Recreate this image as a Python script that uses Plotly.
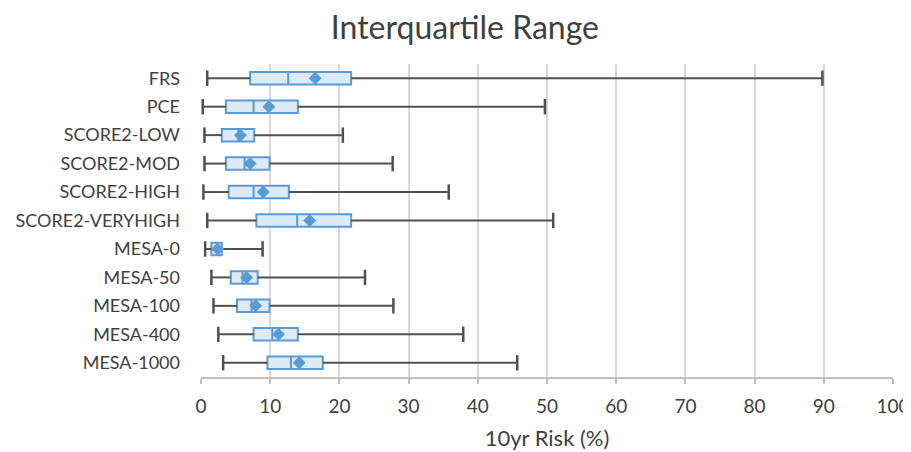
import plotly.graph_objects as go

categories = ["FRS", "PCE", "SCORE2-LOW", "SCORE2-MOD", "SCORE2-HIGH", "SCORE2-VERYHIGH",
              "MESA-0", "MESA-50", "MESA-100", "MESA-400", "MESA-1000"]
min_vals = [0.9, 0.25, 0.5, 0.5, 0.35, 0.9, 0.6, 1.5, 1.8, 2.5, 3.2]
q1_vals = [7.1, 3.6, 3.0, 3.6, 4.0, 8.0, 1.5, 4.3, 5.2, 7.6, 9.6]
median_vals = [12.6, 7.6, 5.4, 6.3, 7.6, 13.9, 2.3, 6.0, 7.3, 10.3, 13.0]
mean_vals = [16.5, 9.8, 5.7, 7.1, 9.0, 15.7, 2.4, 6.6, 7.9, 11.2, 14.2]
q3_vals = [21.7, 14.0, 7.7, 9.9, 12.7, 21.7, 3.0, 8.2, 9.9, 14.0, 17.6]
max_vals = [89.8, 49.7, 20.5, 27.7, 35.8, 50.9, 8.9, 23.7, 27.8, 37.9, 45.7]
x_ticks = [0, 10, 20, 30, 40, 50, 60, 70, 80, 90, 100]

FONT = "Lato"
BLUE = "#5B9BD5"
FILL = "#DDEBF7"
WHISK = "#505050"
TXT = "#404040"

fig = go.Figure()

# whisker segments (min->q1, q3->max)
wx, wy = [], []
for c, lo, a, b, hi in zip(categories, min_vals, q1_vals, q3_vals, max_vals):
    wx += [lo, a, None, b, hi, None]
    wy += [c, c, None, c, c, None]
fig.add_trace(go.Scatter(x=wx, y=wy, mode="lines", line=dict(color=WHISK, width=2),
                         hoverinfo="skip", showlegend=False))

# caps
fig.add_trace(go.Scatter(x=min_vals + max_vals, y=categories + categories, mode="markers",
                         marker=dict(symbol="line-ns", size=11,
                                     line=dict(color=WHISK, width=2.5)),
                         hoverinfo="skip", showlegend=False))

# boxes
fig.add_trace(go.Box(y=categories, q1=q1_vals, median=median_vals, q3=q3_vals,
                     lowerfence=q1_vals, upperfence=q3_vals, orientation="h",
                     fillcolor=FILL, line=dict(color=BLUE, width=2), width=0.44,
                     whiskerwidth=0, showlegend=False))

# means
fig.add_trace(go.Scatter(x=mean_vals, y=categories, mode="markers",
                         marker=dict(symbol="diamond", size=10, color=BLUE),
                         showlegend=False))

fig.update_layout(
    width=903, height=444,
    margin=dict(l=193, r=18, t=56, b=75, autoexpand=False),
    paper_bgcolor="white", plot_bgcolor="white",
    font=dict(family=FONT, color=TXT, size=18),
    title=dict(text="Interquartile Range", x=0.506, xanchor="center", y=0.955, yanchor="middle",
               font=dict(family=FONT, size=32, color=TXT)),
)
fig.update_xaxes(range=[0, 100], tickvals=x_ticks, ticktext=[str(v) for v in x_ticks],
                 automargin=False,
                 showgrid=True, gridcolor="#D9D9D9", gridwidth=1.5, zeroline=False,
                 showline=True, linecolor="#BFBFBF", linewidth=1.5,
                 ticks="outside", ticklen=5, tickcolor="#BFBFBF", tickwidth=1.5,
                 ticklabelstandoff=6,
                 tickfont=dict(family=FONT, size=19, color=TXT),
                 title=dict(text="10yr Risk (%)", font=dict(family=FONT, size=22, color=TXT),
                            standoff=15))
fig.update_yaxes(categoryorder="array", categoryarray=categories,
                 range=[len(categories) - 0.5, -0.5],
                 automargin=False,
                 showgrid=False, zeroline=False, showline=False, ticks="",
                 ticklabelstandoff=20,
                 tickfont=dict(family=FONT, size=18, color=TXT))

fig.write_html("out.html")
